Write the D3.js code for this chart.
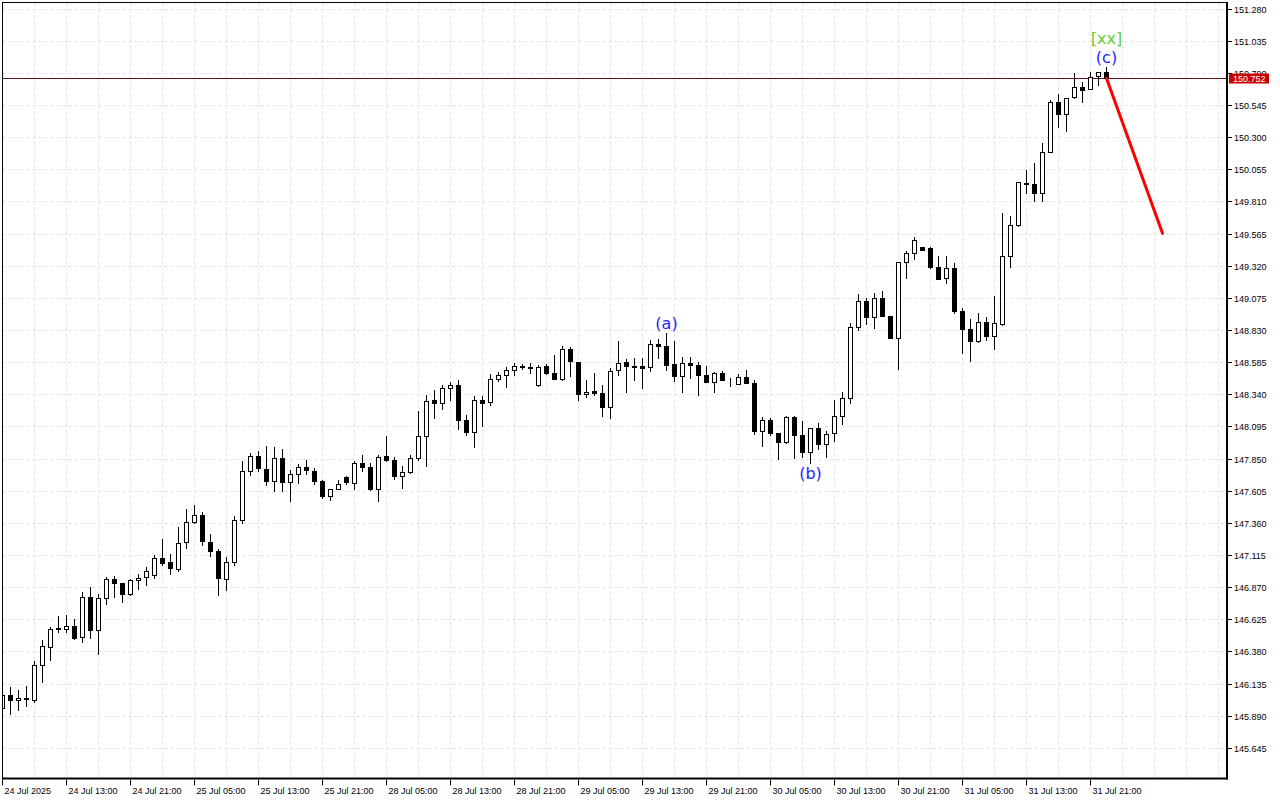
<!DOCTYPE html>
<html><head><meta charset="utf-8">
<script src="https://cdn.jsdelivr.net/npm/d3@7"></script>
<style>body{margin:0;background:#fff}svg{display:block}</style>
</head><body>
<svg id="chart" width="1280" height="800"></svg>
<script>
// ---- data (USDJPY H1) ----
const openP=[145.945,146.051,146.011,146.016,146.008,146.275,146.412,146.560,146.549,146.575,
146.491,146.796,146.544,146.788,146.933,146.903,146.819,146.926,146.945,146.961,
147.090,147.063,147.009,147.215,147.368,147.421,147.215,147.147,146.933,147.063,
147.383,147.756,147.871,147.772,147.680,147.855,147.672,147.734,147.787,147.756,
147.680,147.566,147.619,147.711,147.665,147.817,147.787,147.616,147.871,147.840,
147.718,147.749,147.855,148.023,148.298,148.275,148.386,148.412,148.145,148.054,
148.298,148.282,148.458,148.488,148.526,148.557,148.549,148.412,148.557,148.503,
148.455,148.686,148.587,148.343,148.361,148.353,148.241,148.526,148.587,148.557,
148.557,148.549,148.721,148.709,148.574,148.480,148.580,148.564,148.488,148.435,
148.503,148.412,148.420,148.473,148.427,148.058,148.147,148.046,147.974,148.165,
148.031,147.898,148.084,147.959,148.043,148.173,148.313,148.851,149.052,148.930,
149.075,148.938,148.770,149.349,149.413,149.464,149.456,149.311,149.227,149.304,
148.978,148.839,148.747,148.892,148.785,148.877,149.395,149.628,149.952,149.946,
149.875,150.185,150.569,150.474,150.607,150.683,150.668,150.764,150.798];
const highP=[146.074,146.112,146.087,146.120,146.311,146.471,146.570,146.653,146.661,146.631,
146.834,146.872,146.821,146.953,146.958,146.903,146.933,146.971,147.029,147.116,
147.238,147.126,147.332,147.467,147.500,147.446,147.276,147.162,147.103,147.413,
147.835,147.896,147.911,147.949,147.939,147.924,147.764,147.812,147.842,147.779,
147.688,147.619,147.688,147.721,147.833,147.881,147.820,147.881,148.025,147.868,
147.797,147.878,148.216,148.338,148.376,148.414,148.435,148.452,148.183,148.328,
148.330,148.498,148.511,148.549,148.580,148.572,148.580,148.564,148.572,148.643,
148.711,148.704,148.587,148.450,148.506,148.414,148.544,148.747,148.610,148.618,
148.618,148.757,148.763,148.813,148.747,148.625,148.625,148.587,148.557,148.511,
148.519,148.465,148.496,148.526,148.450,148.168,148.160,148.046,148.178,148.178,
148.140,148.084,148.125,148.061,148.298,148.359,148.884,149.105,149.077,149.113,
149.128,148.940,149.354,149.436,149.542,149.468,149.464,149.397,149.397,149.342,
148.999,148.917,148.961,148.930,149.090,149.727,149.702,149.959,150.051,150.109,
150.256,150.586,150.632,150.599,150.792,150.724,150.798,150.798,150.838];
const lowP=[145.929,145.899,145.932,145.960,145.993,146.145,146.313,146.526,146.526,146.468,
146.450,146.480,146.358,146.740,146.788,146.755,146.806,146.854,146.882,146.938,
147.035,146.966,146.991,147.162,147.352,147.189,147.101,146.808,146.846,147.037,
147.357,147.723,147.753,147.644,147.601,147.601,147.525,147.662,147.728,147.654,
147.548,147.530,147.612,147.650,147.614,147.749,147.604,147.520,147.825,147.690,
147.624,147.734,147.837,147.791,148.157,148.224,148.292,148.071,148.028,147.936,
148.096,148.256,148.439,148.394,148.480,148.526,148.496,148.397,148.488,148.458,
148.442,148.473,148.290,148.313,148.328,148.173,148.157,148.485,148.355,148.445,
148.386,148.516,148.610,148.521,148.437,148.351,148.458,148.333,148.435,148.351,
148.450,148.397,148.412,148.422,148.035,147.944,148.025,147.843,147.964,147.850,
147.858,147.810,147.921,147.855,147.977,148.112,148.267,148.828,148.874,148.843,
148.935,148.767,148.529,149.224,149.365,149.433,149.296,149.212,149.182,148.955,
148.648,148.587,148.732,148.747,148.683,148.862,149.304,149.621,149.870,149.811,
149.811,150.180,150.375,150.345,150.592,150.561,150.668,150.691,150.752];
const closeP=[146.051,146.008,146.028,146.021,146.278,146.423,146.554,146.547,146.575,146.480,
146.796,146.544,146.788,146.933,146.903,146.819,146.926,146.941,146.989,147.093,
147.055,147.014,147.208,147.368,147.421,147.223,147.147,146.941,147.063,147.383,
147.756,147.868,147.779,147.680,147.855,147.672,147.734,147.787,147.761,147.680,
147.566,147.619,147.657,147.672,147.817,147.787,147.616,147.863,147.837,147.715,
147.749,147.855,148.023,148.290,148.275,148.389,148.412,148.145,148.054,148.298,
148.275,148.458,148.488,148.526,148.557,148.546,148.538,148.549,148.503,148.458,
148.686,148.595,148.343,148.359,148.351,148.241,148.519,148.580,148.557,148.551,
148.541,148.719,148.711,148.561,148.477,148.580,148.564,148.488,148.435,148.503,
148.450,148.409,148.473,148.427,148.056,148.145,148.041,147.974,148.165,148.028,
147.898,148.084,147.959,148.038,148.176,148.313,148.851,149.052,148.930,149.075,
148.935,148.772,149.346,149.418,149.517,149.441,149.311,149.217,149.304,148.973,
148.839,148.747,148.892,148.782,148.884,149.395,149.628,149.954,149.941,149.875,
150.188,150.569,150.474,150.599,150.683,150.660,150.759,150.798,150.752];

const xTickIdx=[0,8,16,24,32,40,48,56,64,72,80,88,96,104,112,120,128,136];
const xTickLabels=["24 Jul 2025","24 Jul 13:00","24 Jul 21:00","25 Jul 05:00","25 Jul 13:00","25 Jul 21:00",
"28 Jul 05:00","28 Jul 13:00","28 Jul 21:00","29 Jul 05:00","29 Jul 13:00","29 Jul 21:00",
"30 Jul 05:00","30 Jul 13:00","30 Jul 21:00","31 Jul 05:00","31 Jul 13:00","31 Jul 21:00"];
const yTickLabels=["145.645","145.890","146.135","146.380","146.625","146.870","147.115","147.360",
"147.605","147.850","148.095","148.340","148.585","148.830","149.075","149.320","149.565","149.810",
"150.055","150.300","150.545","150.790","151.035","151.280"];

const waveIdx=[83,101,138,138];
const waveText=["(a)","(b)","(c)","[xx]"];
const waveSide=["high","low","high","high2"];

const forecastIdx=[138,145];
const forecastVal=[150.752,149.570];
const lastPrice=150.752;

// ---- layout ----
const L=2.5, T=2.5, R=1227, B=778.5;
const svg=d3.select("#chart");
const x=d3.scaleLinear().domain([0,152]).range([2.5,1218.5]);
const y=d3.scaleLinear().domain([145.645,151.280]).range([748.3,9]);
const snap=v=>Math.round(v-0.5)+0.5;

svg.append("rect").attr("width",1280).attr("height",800).attr("fill","#fff");
svg.append("clipPath").attr("id","plot").append("rect")
  .attr("x",3).attr("y",3).attr("width",R-3).attr("height",B-3);

const grid=svg.append("g").attr("stroke","#e2e2e2").attr("stroke-width",1).attr("stroke-dasharray","3,3");
d3.range(4,153,4).forEach(i=>{
  grid.append("line").attr("x1",x(i)).attr("x2",x(i)).attr("y1",T+1).attr("y2",B);
});
yTickLabels.forEach(s=>{
  const yy=snap(y(+s));
  grid.append("line").attr("x1",L).attr("x2",R).attr("y1",yy).attr("y2",yy);
});

// current price line
const plot=svg.append("g").attr("clip-path","url(#plot)");
plot.append("line").attr("x1",L).attr("x2",R)
  .attr("y1",snap(y(lastPrice))).attr("y2",snap(y(lastPrice)))
  .attr("stroke","#5a1010").attr("stroke-width",1);

// candles
const idx=d3.range(openP.length);
const cg=plot.append("g");
cg.selectAll("line.w").data(idx).join("line").attr("class","w")
  .attr("x1",i=>x(i)).attr("x2",i=>x(i))
  .attr("y1",i=>Math.round(y(highP[i]))).attr("y2",i=>Math.round(y(lowP[i])))
  .attr("stroke","#000").attr("stroke-width",1);
cg.selectAll("rect.b").data(idx).join("rect").attr("class","b")
  .attr("x",i=>x(i)-2)
  .attr("width",4)
  .attr("y",i=>snap(y(Math.max(openP[i],closeP[i]))))
  .attr("height",i=>Math.max(0,snap(y(Math.min(openP[i],closeP[i])))-snap(y(Math.max(openP[i],closeP[i])))))
  .attr("fill",i=>closeP[i]>openP[i]?"#fff":"#000")
  .attr("stroke","#000").attr("stroke-width",1);

// forecast line
plot.append("line")
  .attr("x1",x(forecastIdx[0])).attr("y1",y(forecastVal[0]))
  .attr("x2",x(forecastIdx[1])).attr("y2",y(forecastVal[1]))
  .attr("stroke","#ff0000").attr("stroke-width",3).attr("stroke-linecap","round");

// wave labels
waveIdx.forEach((i,k)=>{
  const side=waveSide[k];
  let yy;
  if(side==="high") yy=y(highP[i])-4;
  else if(side==="high2") yy=y(highP[i])-23;
  else yy=y(lowP[i])+15;
  svg.append("text").attr("x",x(i)).attr("y",yy).attr("text-anchor","middle")
    .attr("font-family","DejaVu Sans, sans-serif").attr("font-size",16)
    .attr("fill",waveText[k]==="[xx]"?"#66cc33":"#2323ff").text(waveText[k]);
});

// frame
svg.append("rect").attr("x",L).attr("y",T).attr("width",R-L).attr("height",B-T)
  .attr("fill","none").attr("stroke","#000").attr("stroke-width",1);
svg.append("line").attr("x1",R).attr("x2",R).attr("y1",T-0.5).attr("y2",B+1).attr("stroke","#000").attr("stroke-width",2);
svg.append("line").attr("x1",L-0.5).attr("x2",R+1).attr("y1",B).attr("y2",B).attr("stroke","#000").attr("stroke-width",2);

// y axis
const ya=svg.append("g").attr("font-family","Liberation Sans, Arial, sans-serif").attr("font-size",9);
yTickLabels.forEach(s=>{
  const yy=snap(y(+s));
  ya.append("line").attr("x1",R+1).attr("x2",R+5).attr("y1",yy).attr("y2",yy).attr("stroke","#000");
  ya.append("text").attr("x",R+7).attr("y",yy).attr("dy","0.35em").attr("fill","#000").text(s);
});
// price tag
const py=snap(y(lastPrice));
ya.append("rect").attr("x",R+2).attr("y",py-5).attr("width",40).attr("height",10).attr("fill","#c80000");
ya.append("text").attr("x",R+6).attr("y",py).attr("dy","0.35em").attr("fill","#fff").text(lastPrice.toFixed(3));

// x axis
const xa=svg.append("g").attr("font-family","Liberation Sans, Arial, sans-serif").attr("font-size",9);
xTickIdx.forEach((i,k)=>{
  const xx=Math.round(x(i)-0.5)+0.5;
  xa.append("line").attr("x1",xx).attr("x2",xx).attr("y1",B+1).attr("y2",B+7).attr("stroke","#000");
  xa.append("text").attr("x",xx+2).attr("y",794).attr("fill","#000").text(xTickLabels[k]);
});
</script>
</body></html>
